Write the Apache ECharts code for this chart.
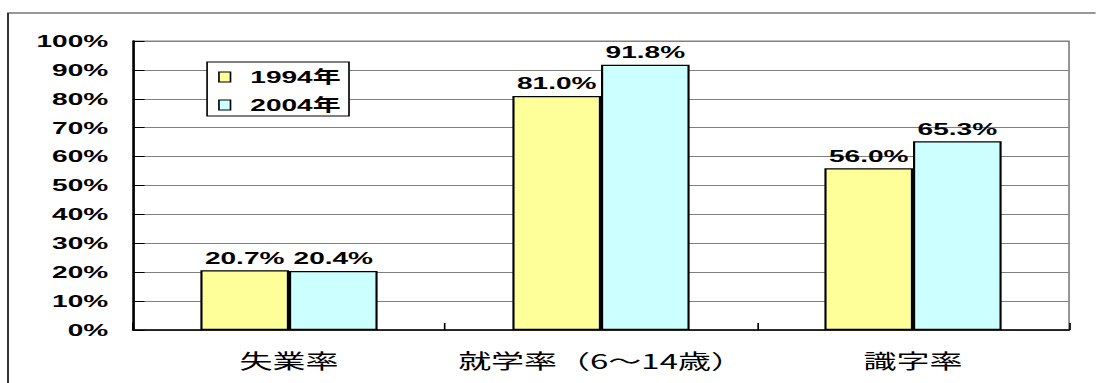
<!DOCTYPE html>
<html>
<head>
<meta charset="utf-8">
<script src="https://cdn.jsdelivr.net/npm/echarts@6/dist/echarts.min.js"></script>
<style>
html,body{margin:0;padding:0;background:#fff;overflow:hidden;}
#wrap{width:1096px;height:383px;overflow:hidden;}
#chart{width:664px;height:383px;transform:scaleX(1.65);transform-origin:0 0;}
</style>
</head>
<body>
<div id="wrap"><div id="chart"></div></div>
<script>
const categories = ['失業率', '就学率（6～14歳）', '識字率'];
const seriesNames = ['1994年', '2004年'];
const values1994 = [20.7, 81.0, 56.0];
const values2004 = [20.4, 91.8, 65.3];
const yTicks = [0, 10, 20, 30, 40, 50, 60, 70, 80, 90, 100];

const chart = echarts.init(document.getElementById('chart'), null, {renderer: 'svg'});
const numFont = '"Liberation Sans", Arial, sans-serif';
const mixFont = '"Liberation Sans", "Noto Sans CJK JP", sans-serif';
const cjkFont = '"Noto Sans CJK JP", "Liberation Sans", sans-serif';

const labelOpt = {
  show: true,
  position: 'top',
  distance: 4,
  color: '#000',
  fontFamily: numFont,
  fontWeight: 'bold',
  fontSize: 17,
  formatter: p => p.value.toFixed(1) + '%'
};

chart.setOption({
  animation: false,
  backgroundColor: '#fff',
  graphic: [{
    type: 'polyline',
    shape: {points: [[4.85, 400], [4.85, 13], [700, 13]]},
    style: {fill: 'none', stroke: '#333', lineWidth: 1.2},
    silent: true, z: -1
  }],
  grid: {
    left: 80.6, top: 41, width: 567.3, height: 289,
    show: true, borderColor: '#808080', borderWidth: 1,
    containLabel: false
  },
  legend: {
    orient: 'vertical',
    left: 125.5, top: 62,
    itemWidth: 7, itemHeight: 10,
    itemGap: 10,
    padding: [6, 5, 2, 6.7],
    borderColor: '#000', borderWidth: 1,
    backgroundColor: '#fff',
    icon: 'rect',
    itemStyle: {borderColor: '#000', borderWidth: 1},
    textStyle: {fontFamily: mixFont, fontWeight: 'bold', fontSize: 17, color: '#000', lineHeight: 18, padding: [0, 0, 0, 7]},
    data: seriesNames
  },
  xAxis: {
    type: 'category',
    data: categories,
    axisLine: {lineStyle: {color: '#000', width: 1.5}},
    axisTick: {show: true, inside: true, length: 7, lineStyle: {color: '#000'}},
    axisLabel: {color: '#000', fontFamily: cjkFont, fontWeight: 'normal', fontSize: 20, margin: 20, interval: 0}
  },
  yAxis: {
    type: 'value',
    min: 0, max: 100, interval: 10,
    axisLine: {show: true, lineStyle: {color: '#000', width: 1.5}},
    axisTick: {show: true, inside: true, length: 7, lineStyle: {color: '#000'}},
    axisLabel: {
      color: '#000', fontFamily: numFont, fontWeight: 'bold', fontSize: 17, margin: 15,
      formatter: v => yTicks.includes(v) ? v + '%' : ''
    },
    splitLine: {show: true, lineStyle: {color: '#808080', width: 1}}
  },
  series: [
    {
      name: seriesNames[0], type: 'bar', data: values1994,
      barWidth: '28.4%', barGap: '0%',
      itemStyle: {color: '#FFFF99', borderColor: '#000', borderWidth: 1.3},
      label: labelOpt
    },
    {
      name: seriesNames[1], type: 'bar', data: values2004,
      barWidth: '28.4%', barGap: '0%',
      itemStyle: {color: '#CCFFFF', borderColor: '#000', borderWidth: 1.3},
      label: labelOpt
    }
  ]
});
</script>
</body>
</html>
